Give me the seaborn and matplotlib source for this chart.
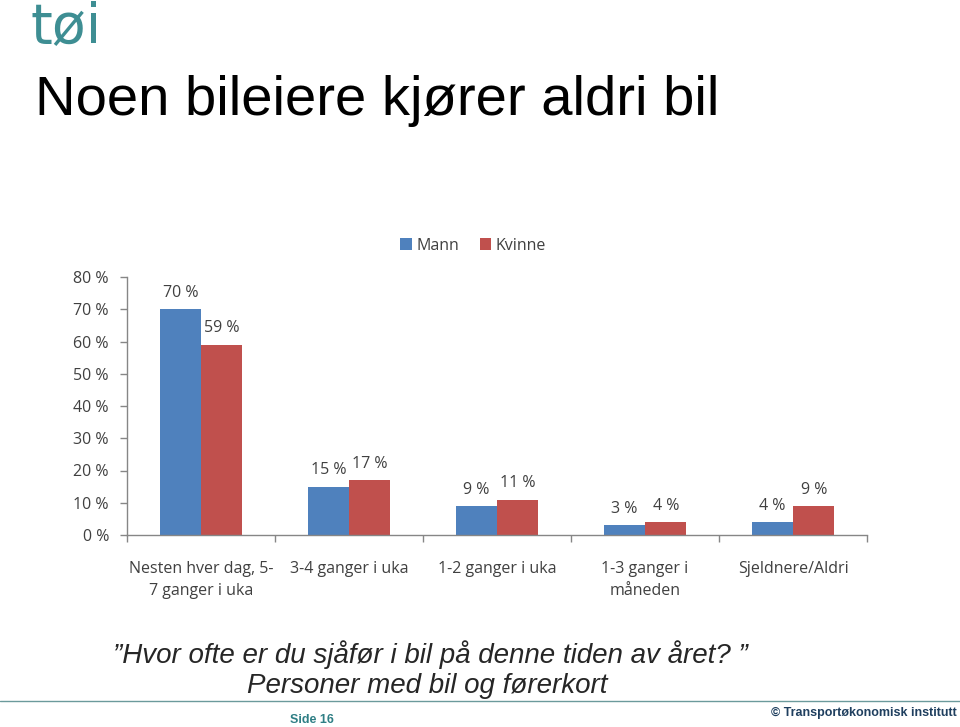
import matplotlib
matplotlib.use("Agg")
import matplotlib.pyplot as plt
import seaborn as sns
import pandas as pd
import numpy as np
from matplotlib.ticker import FixedLocator

categories = ["Nesten hver dag, 5-\n7 ganger i uka", "3-4 ganger i uka", "1-2 ganger i uka",
              "1-3 ganger i\nmåneden", "Sjeldnere/Aldri"]
series = ["Mann", "Kvinne"]
mann = [70, 15, 9, 3, 4]
kvinne = [59, 17, 11, 4, 9]
yticks = [0, 10, 20, 30, 40, 50, 60, 70, 80]
colors = ["#4F81BD", "#C0504D"]

df = pd.DataFrame({
    "kategori": categories * 2,
    "kjønn": [series[0]] * len(categories) + [series[1]] * len(categories),
    "andel": mann + kvinne,
})

sns.set_style("white")
plt.rcParams["font.family"] = ["Liberation Sans", "DejaVu Sans"]
tickfont = ["Open Sans", "DejaVu Sans"]
fs = 11.5

fig = plt.figure(figsize=(9.6, 7.27), dpi=100)
ax = fig.add_axes([127 / 960, 192 / 727, 740 / 960, 258 / 727])

sns.barplot(data=df, x="kategori", y="andel", hue="kjønn", palette=colors,
            width=0.56, saturation=1, ax=ax, errorbar=None, legend=True,
            linewidth=0, edgecolor="none")

ax.set_ylim(0, 80)
ax.set_xlim(-0.5, len(categories) - 0.5)
ax.set_yticks(yticks)
ax.set_yticklabels([f"{v} %" for v in yticks], fontsize=fs, color="#404040", family=tickfont)
ax.set_xticks(range(len(categories)))
ax.set_xticklabels(categories, fontsize=fs, color="#404040", family=tickfont, linespacing=1.5)
ax.xaxis.set_minor_locator(FixedLocator(np.arange(-0.5, len(categories), 1.0)))
ax.tick_params(axis="x", which="major", length=0, pad=19)
ax.tick_params(axis="x", which="minor", length=5, color="#868686", width=1, direction="out", bottom=True)
ax.tick_params(axis="y", length=5, color="#868686", width=1, direction="out", left=True, pad=8)
ax.set_xlabel("")
ax.set_ylabel("")
for s in ["top", "right"]:
    ax.spines[s].set_visible(False)
for s in ["left", "bottom"]:
    ax.spines[s].set_color("#868686")
    ax.spines[s].set_linewidth(1)

for cont in ax.containers:
    for bar in cont:
        h = bar.get_height()
        ax.annotate(f"{h:.0f} %", (bar.get_x() + bar.get_width() / 2, h),
                    xytext=(0, 6), textcoords="offset points", ha="center", va="bottom",
                    fontsize=fs, color="#404040", family=tickfont)

leg = ax.legend(loc="lower center", bbox_to_anchor=(0.468, 1.035), ncol=2, frameon=False,
                handlelength=0.7, handleheight=0.7, handletextpad=0.3, columnspacing=1.3,
                prop={"family": tickfont, "size": fs})
for t in leg.get_texts():
    t.set_color("#404040")

# Slide decorations
fig.text(30 / 960, 1 - 27 / 727, "tøi", fontsize=40, color="#3E8E93", ha="left", va="center",
         family=["DejaVu Sans"])
fig.text(35 / 960, 1 - 101 / 727, "Noen bileiere kjører aldri bil", fontsize=40.5, color="black",
         ha="left", va="center")
fig.text(430 / 960, 1 - 655 / 727, "\u201dHvor ofte er du sjåfør i bil på denne tiden av året? \u201d",
         fontsize=20, style="italic", ha="center", va="center")
fig.text(427 / 960, 1 - 686 / 727, "Personer med bil og førerkort",
         fontsize=20, style="italic", ha="center", va="center")
fig.add_artist(plt.Line2D([0, 1], [1 - 701 / 727] * 2, color="#6B9A9C", linewidth=1))
fig.text(312 / 960, 1 - 720 / 727, "Side 16", fontsize=9, fontweight="bold", color="#2F7F85",
         ha="center", va="center")
fig.text(957 / 960, 1 - 713 / 727, "© Transportøkonomisk institutt", fontsize=9, fontweight="bold",
         color="#1F3F5F", ha="right", va="center")

fig.savefig("out.png", dpi=100)
